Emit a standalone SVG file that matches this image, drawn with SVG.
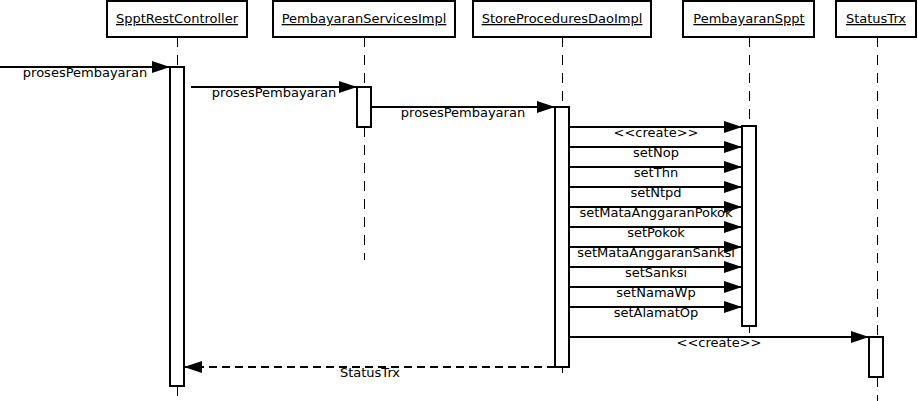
<svg xmlns="http://www.w3.org/2000/svg" width="918" height="401" viewBox="0 0 918 401">
<style>
.hd{fill:#fff;stroke:#000;stroke-width:2}
.act{fill:#fff;stroke:#000;stroke-width:2}
.ll{stroke:#000;stroke-width:1;stroke-dasharray:10 8;fill:none}
.msg{stroke:#000;stroke-width:2;fill:none}
.ret{stroke:#000;stroke-width:2;stroke-dasharray:8 5;fill:none}
text{font-family:"DejaVu Sans",sans-serif;font-size:13px;fill:#000}
.t{text-anchor:middle}
.u{text-decoration:underline}
</style>
<defs>
<marker id="ah" markerWidth="20" markerHeight="12" refX="18" refY="6" orient="auto" markerUnits="userSpaceOnUse">
<path d="M0,0 L18,6 L0,12 Z" fill="#000"/>
</marker>
</defs>
<g id="n_SpptRestController">
<rect class="hd" x="107" y="1" width="140" height="36"/>
<text class="t u" x="177" y="23">SpptRestController</text>
<path class="ll" d="M177.5,37 V67 M177.5,386 V401"/>
<rect class="act" x="170" y="67" width="14" height="319"/>
</g>
<g id="n_PembayaranServicesImpl">
<rect class="hd" x="273" y="1" width="182" height="36"/>
<text class="t u" x="364" y="23">PembayaranServicesImpl</text>
<path class="ll" d="M364.5,37 V87 M364.5,127 V260"/>
<rect class="act" x="357" y="87" width="14" height="40"/>
</g>
<g id="n_StoreProceduresDaoImpl">
<rect class="hd" x="473" y="1" width="178" height="36"/>
<text class="t u" x="562" y="23">StoreProceduresDaoImpl</text>
<path class="ll" d="M562.5,37 V107 M562.5,367 V373"/>
<rect class="act" x="555" y="107" width="14" height="260"/>
</g>
<g id="n_PembayaranSppt">
<rect class="hd" x="683" y="1" width="131" height="36"/>
<text class="t u" x="749" y="23">PembayaranSppt</text>
<path class="ll" d="M749.5,37 V126 M749.5,326 V333"/>
<rect class="act" x="742" y="126" width="14" height="200"/>
</g>
<g id="n_StatusTrx">
<rect class="hd" x="836" y="1" width="80" height="36"/>
<text class="t u" x="876" y="23">StatusTrx</text>
<path class="ll" d="M877.5,37 V337 M877.5,377 V401"/>
<rect class="act" x="869" y="337" width="14" height="40"/>
</g>
<g id="connectors">
<path class="msg" d="M0,67 H170" marker-end="url(#ah)"/>
<text class="t" x="85" y="77">prosesPembayaran</text>
<path class="msg" d="M191,87 H357" marker-end="url(#ah)"/>
<text class="t" x="274" y="97">prosesPembayaran</text>
<path class="msg" d="M371,107 H555" marker-end="url(#ah)"/>
<text class="t" x="463" y="117">prosesPembayaran</text>
<path class="msg" d="M569,127 H742" marker-end="url(#ah)"/>
<text class="t" x="656" y="137">&lt;&lt;create&gt;&gt;</text>
<path class="msg" d="M569,147 H742" marker-end="url(#ah)"/>
<text class="t" x="656" y="157">setNop</text>
<path class="msg" d="M569,167 H742" marker-end="url(#ah)"/>
<text class="t" x="656" y="177">setThn</text>
<path class="msg" d="M569,187 H742" marker-end="url(#ah)"/>
<text class="t" x="656" y="197">setNtpd</text>
<path class="msg" d="M569,207 H742" marker-end="url(#ah)"/>
<text class="t" x="656" y="217">setMataAnggaranPokok</text>
<path class="msg" d="M569,227 H742" marker-end="url(#ah)"/>
<text class="t" x="656" y="237">setPokok</text>
<path class="msg" d="M569,247 H742" marker-end="url(#ah)"/>
<text class="t" x="656" y="257">setMataAnggaranSanksi</text>
<path class="msg" d="M569,267 H742" marker-end="url(#ah)"/>
<text class="t" x="656" y="277">setSanksi</text>
<path class="msg" d="M569,287 H742" marker-end="url(#ah)"/>
<text class="t" x="656" y="297">setNamaWp</text>
<path class="msg" d="M569,307 H742" marker-end="url(#ah)"/>
<text class="t" x="656" y="317">setAlamatOp</text>
<path class="msg" d="M569,337 H869" marker-end="url(#ah)"/>
<text class="t" x="719" y="347">&lt;&lt;create&gt;&gt;</text>
<path class="ret" d="M555,367 H184" marker-end="url(#ah)"/>
<text class="t" x="370" y="377">StatusTrx</text>
</g>
</svg>
